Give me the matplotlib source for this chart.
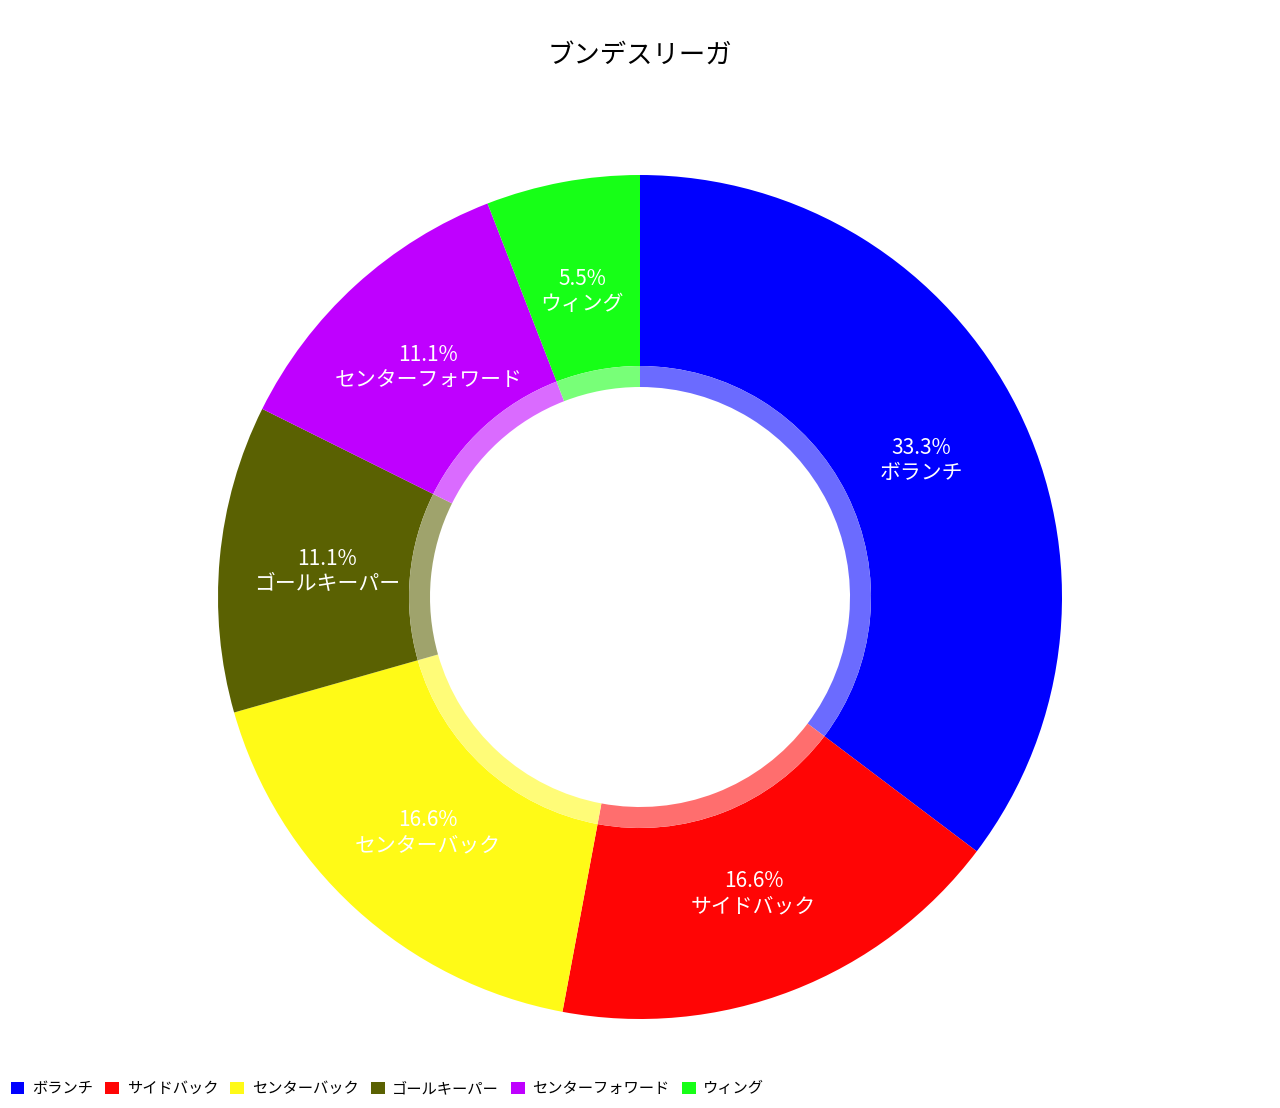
import numpy as np
import matplotlib
matplotlib.use("Agg")
import matplotlib.pyplot as plt
from matplotlib.patches import Patch

plt.rcParams['font.family'] = ['Noto Sans CJK JP', 'DejaVu Sans']

positions = ["ボランチ", "サイドバック", "センターバック", "ゴールキーパー", "センターフォワード", "ウィング"]
counts = [6, 3, 3, 2, 2, 1]
pct_labels = ["33.3%", "16.6%", "16.6%", "11.1%", "11.1%", "5.5%"]
colors = ["#0000ff", "#ff0505", "#fffa17", "#5a6102", "#bf00ff", "#17ff17"]

def lighten(c, a=0.58):
    rgb = np.array(matplotlib.colors.to_rgb(c))
    return tuple(rgb * a + (1 - a))

fig = plt.figure(figsize=(12.8, 11.08), dpi=100)
R = 422
cx, cy = 640, 597
ax = fig.add_axes([(cx - R) / 1280, (1108 - cy - R) / 1108, 2 * R / 1280, 2 * R / 1108])

r_in = 231 / R
r_hole = 210 / R
ax.pie(counts, colors=colors, radius=1, startangle=90, counterclock=False,
       wedgeprops=dict(width=1 - r_in, linewidth=0))
ax.pie(counts, colors=[lighten(c) for c in colors], radius=r_in, startangle=90,
       counterclock=False, wedgeprops=dict(width=r_in - r_hole, linewidth=0))

total = sum(counts)
start = 90.0
lab_r = 0.745
for v, name, pct in zip(counts, positions, pct_labels):
    span = 360.0 * v / total
    mid = np.deg2rad(start - span / 2)
    ax.text(lab_r * np.cos(mid), lab_r * np.sin(mid) - 0.008, f"{pct}\n{name}",
            ha='center', va='center', color='white', fontsize=15, linespacing=1.2)
    start -= span

ax.set_xlim(-1, 1)
ax.set_ylim(-1, 1)
ax.set_aspect('equal')
ax.axis('off')

fig.text(0.5, 1 - 55 / 1108, "ブンデスリーガ", ha='center', va='center', fontsize=19)

handles = [Patch(facecolor=c, label=n) for c, n in zip(colors, positions)]
fig.legend(handles=handles, loc='lower left', bbox_to_anchor=(0.0, 0.0), ncol=6,
           frameon=False, fontsize=11, handlelength=0.9, handleheight=0.9,
           handletextpad=0.5, columnspacing=0.8, borderaxespad=0.3)

fig.savefig("out.png", dpi=100, facecolor='white')
